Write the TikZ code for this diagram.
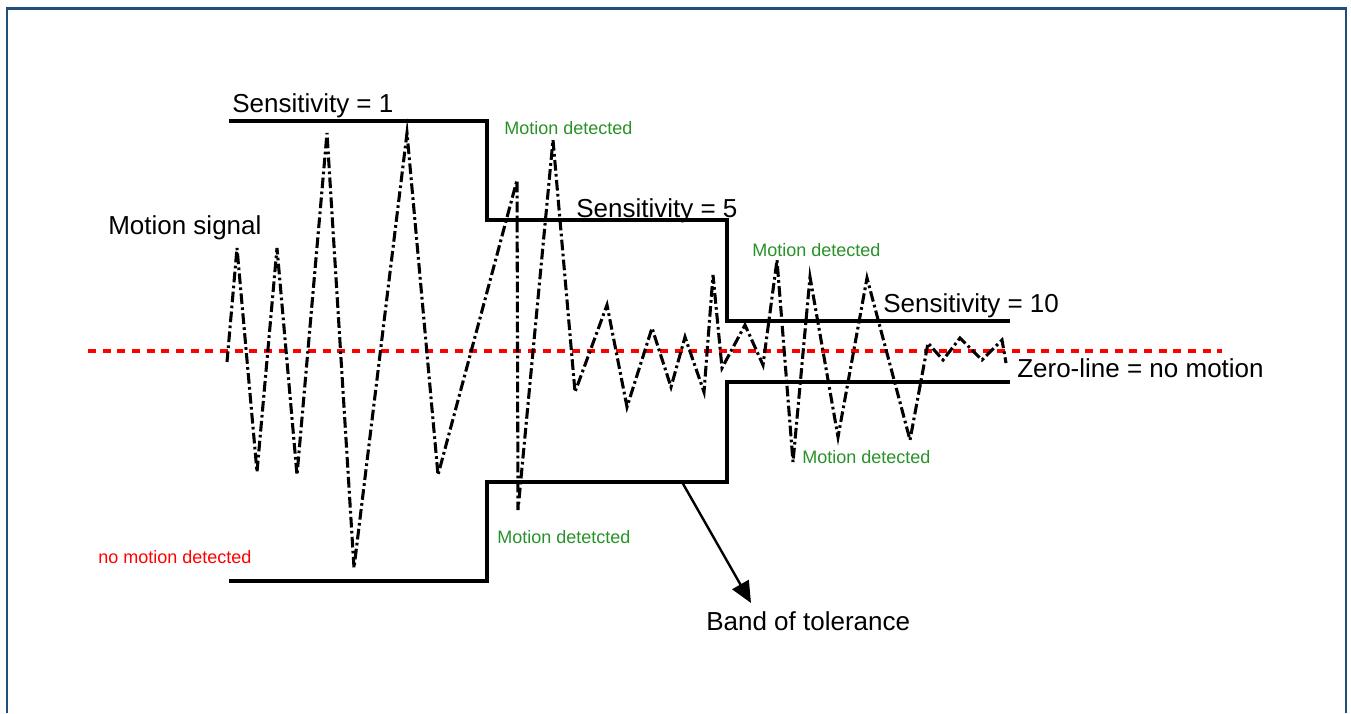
\documentclass[tikz,border=0pt]{standalone}
\usepackage{fontspec}
\setmainfont{Liberation Sans}
\usetikzlibrary{arrows.meta}
\definecolor{framecol}{RGB}{31,78,121}
\definecolor{detgreen}{RGB}{40,145,40}
\tikzset{
  biglabel/.style={font=\fontsize{19.5}{23}\selectfont, text=black, inner sep=0pt, anchor=base west},
  greenlabel/.style={font=\fontsize{13.5}{16}\selectfont, text=detgreen, inner sep=0pt, anchor=base west},
  redlabel/.style={font=\fontsize{13.5}{16}\selectfont, text=red, inner sep=0pt, anchor=base west},
  bandline/.style={line width=2.5pt, black, line join=miter},
  signal/.style={line width=2.3pt, black, dash pattern=on 8pt off 2.5pt on 2pt off 2.5pt},
  zeroline/.style={line width=2.6pt, red, dash pattern=on 6pt off 5pt},
  framebox/.style={line width=1.9pt, framecol}
}
\begin{document}
\begin{tikzpicture}[x=0.75pt,y=-0.75pt]
\useasboundingbox (0,0) rectangle (1351,713);
% frame
\draw[framebox] (7,713) -- (7,8.5) -- (1346,8.5) -- (1346,713);
% zero line
\draw[zeroline] (88,351) -- (1222,351);
% band of tolerance
\draw[bandline] (229,121) -- (487,121) -- (487,220) -- (727,220) -- (727,321) -- (1010,321);
\draw[bandline] (229,581) -- (487,581) -- (487,482) -- (727,482) -- (727,382) -- (1010,382);
% signal
\draw[signal] (227,362) -- (237,248) -- (257,472) -- (277,248) -- (297,475) -- (327,133)
  -- (354,568) -- (407,133) -- (438,475) -- (517,180) -- (518,510) -- (553,140)
  -- (575,392) -- (607,305) -- (627,407) -- (652,328) -- (671,387) -- (685,337)
  -- (704,392) -- (713,275) -- (722,368) -- (745,325) -- (763,365) -- (777,260)
  -- (793,462) -- (810,277) -- (838,437) -- (867,278) -- (910,440) -- (928,343)
  -- (943,360) -- (960,338) -- (982,360) -- (1002,340) -- (1006,363);
% labels
\node[biglabel] (s1) at (232,113) {Sensitivity = 1};
\node[biglabel] (ms) at (108,234) {Motion signal};
\node[biglabel] (s5) at (576,217) {Sensitivity = 5};
\node[biglabel] (s10) at (883,312) {Sensitivity = 10};
\node[biglabel] (zl) at (1017,377) {Zero-line = no motion};
\node[biglabel] (bt) at (706,630) {Band of tolerance};
\node[greenlabel] (g1) at (504,135) {Motion detected};
\node[greenlabel] (g2) at (752,256) {Motion detected};
\node[greenlabel] (g3) at (802,463) {Motion detected};
\node[greenlabel] (g4) at (497,543) {Motion detetcted};
\node[redlabel] (nm) at (98,563) {no motion detected};
% arrow
\coordinate (arrS) at (682,482);
\coordinate (arrE) at (751,603);
\draw[line width=1.8pt, -{Triangle[length=16pt,width=14pt]}] (arrS) -- (arrE);
\end{tikzpicture}
\end{document}
